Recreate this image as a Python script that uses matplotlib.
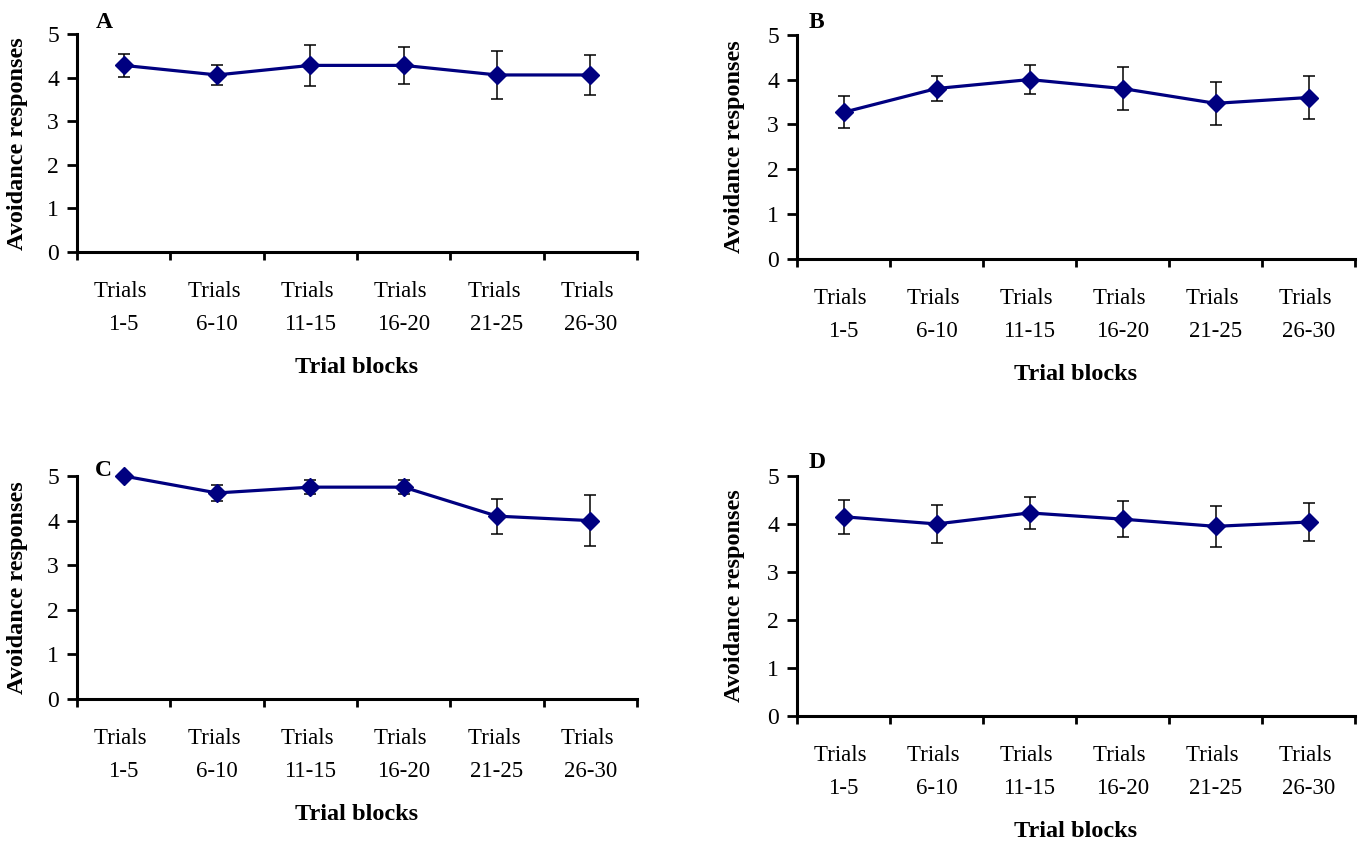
import matplotlib
matplotlib.use("Agg")
import matplotlib.pyplot as plt
import numpy as np

plt.rcParams['font.family'] = ['Liberation Serif', 'DejaVu Serif']

# data
blocks = ['Trials \n1-5', 'Trials \n6-10', 'Trials \n11-15',
          'Trials \n16-20', 'Trials \n21-25', 'Trials \n26-30']
panel_names = ['A', 'B', 'C', 'D']

mean_a = [4.29, 4.07, 4.29, 4.29, 4.07, 4.07]
err_a = [0.26, 0.24, 0.48, 0.42, 0.55, 0.46]

mean_b = [3.27, 3.80, 4.00, 3.80, 3.47, 3.60]
err_b = [0.36, 0.27, 0.32, 0.47, 0.48, 0.47]

mean_c = [5.00, 4.62, 4.75, 4.75, 4.10, 4.00]
err_c = [0.00, 0.18, 0.16, 0.16, 0.39, 0.57]

mean_d = [4.15, 4.00, 4.23, 4.10, 3.95, 4.04]
err_d = [0.35, 0.40, 0.33, 0.38, 0.43, 0.40]

W, H = 1363, 843
fig = plt.figure(figsize=(W / 100, H / 100), dpi=100)

# axes boxes in pixels: left, right, top (y=5), bottom (y=0)
boxes = [(77, 637, 34.5, 252), (797, 1355, 34.7, 259),
         (77, 637, 476, 699), (797, 1355, 476, 715.7)]
label_pos = [(104, 23), (816, 22), (103, 470), (817, 463)]
ylabel_x = [28, 745, 28, 745]   # right edge of the rotated y label
means = [mean_a, mean_b, mean_c, mean_d]
errs = [err_a, err_b, err_c, err_d]
navy = '#000080'

for name, box, lp, yx, m, e in zip(panel_names, boxes, label_pos, ylabel_x,
                                   means, errs):
    l, r, t, b = box
    ax = fig.add_axes([l / W, 1 - b / H, (r - l) / W, (b - t) / H])
    x = np.arange(len(m)) + 0.5
    ax.errorbar(x, m, yerr=e, fmt='-D', color=navy, lw=2.3, ms=9,
                ecolor='black', elinewidth=1.1, capsize=4.5, capthick=1.1,
                clip_on=False, zorder=3)
    ax.set_xlim(0, len(m))
    ax.set_ylim(0, 5)
    ax.set_yticks(range(6))
    ax.set_xticks(np.arange(len(m) + 1))
    ax.set_xticklabels([])
    ax.set_xticks(x, minor=True)
    ax.set_xticklabels(blocks, minor=True, linespacing=1.75)
    ax.tick_params(axis='x', which='major', direction='out', length=6,
                   width=2, color='black')
    ax.tick_params(axis='x', which='minor', length=0, pad=21, labelsize=16.5)
    ax.tick_params(axis='y', direction='out', length=7, width=2,
                   pad=6, labelsize=17)
    for s in ['top', 'right']:
        ax.spines[s].set_visible(False)
    for s in ['left', 'bottom']:
        ax.spines[s].set_linewidth(2.2)
    ax.set_ylabel('Avoidance responses', fontsize=17.5, fontweight='bold')
    ax.yaxis.set_label_coords((yx - l) / (r - l), 0.5)
    ax.set_xlabel('Trial blocks', fontsize=17.5, fontweight='bold')
    ax.xaxis.set_label_coords(0.5, -105 / (b - t))
    fig.text(lp[0] / W, 1 - lp[1] / H, name, fontsize=17, fontweight='bold',
             ha='center', va='center')

fig.savefig('out.png', dpi=100)
